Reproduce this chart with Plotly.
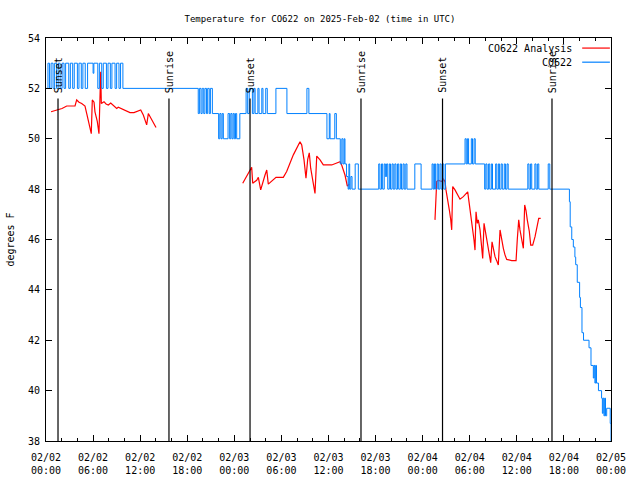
import pandas as pd
import plotly.graph_objects as go

# ---------------- data ----------------
BASE = "2025-02-02 00:00"

# Station observations (hours since 2025-02-02 00:00 UTC, degrees F)
obs_hours = [
    0.0, 0.25, 0.45, 0.65, 0.9, 1.1, 1.35, 1.55, 1.8, 2.05, 2.3, 2.5, 2.9, 3.1, 3.4, 3.6,
    4.0, 4.2, 4.5, 4.7, 5.0, 5.3, 6.0, 6.1, 6.6, 6.8, 7.1, 7.3, 7.7, 7.9, 8.2, 8.4, 8.8,
    9.0, 9.3, 9.5, 9.8,
    19.4, 19.55, 19.75, 19.9, 20.1, 20.25, 20.45, 20.6, 20.8, 20.95, 21.2,
    22.0, 22.15, 22.3, 22.45, 22.6, 23.2, 23.4, 23.55, 23.7, 23.85, 24.0, 24.15, 24.3, 24.7,
    25.5, 25.7, 25.9, 26.3, 26.5, 26.65, 27.0, 27.15, 27.5, 27.65, 28.0, 28.2, 29.3, 30.7,
    33.25, 33.5, 35.8, 36.1, 36.2, 36.8, 37.0, 37.5, 37.7, 37.85, 38.0, 38.1, 38.3, 38.5,
    38.6, 38.7, 38.85, 39.0, 39.4, 39.8,
    42.4, 42.55, 42.75, 42.9, 43.1, 43.25, 43.4, 43.55, 43.75, 43.9, 44.1, 44.25, 44.45,
    44.6, 44.8, 44.95, 45.15, 45.3, 45.5, 45.65, 45.85, 46.0, 47.0, 47.8,
    49.2, 49.35, 49.5, 49.65, 49.85, 50.0, 50.2, 50.35, 50.55, 50.7, 50.9,
    53.4, 53.55, 53.7, 53.85, 54.2, 54.35, 54.55, 54.7,
    55.9, 56.05, 56.2, 56.4, 56.55, 56.75, 56.9, 57.3, 57.45, 57.65, 57.8, 58.0, 58.15,
    58.4, 58.55, 58.75, 58.9,
    61.4, 61.55, 61.75, 61.9, 62.3, 62.45, 62.65, 62.8, 64.0, 64.2,
    66.7, 66.8, 67.0, 67.2, 67.4, 67.5, 67.7, 68.0, 68.1, 68.3, 68.5, 69.2, 69.45, 69.75,
    69.85, 69.95, 70.05, 70.15, 70.4, 70.8, 70.9, 71.0, 71.1, 71.2, 71.3, 71.45, 71.9, 72.0,
]
obs_temp = [
    52, 53, 52, 53, 52, 53, 52, 53, 52, 53, 52, 53, 52, 53, 52, 53,
    52, 53, 52, 53, 52, 53, 52.6, 53, 52, 53, 52, 53, 52, 53, 52, 53, 52,
    53, 52, 53, 52,
    51, 52, 51, 52, 51, 52, 51, 52, 51, 52, 51,
    50, 51, 50, 51, 50, 51, 50, 51, 50, 51, 50, 51, 50, 51,
    52, 51, 52, 51, 52, 51, 52, 51, 52, 51, 52, 51, 52, 51,
    52, 51, 50, 51, 50, 51, 50, 49, 50, 49, 50, 49, 48.5, 48,
    49, 48, 48.5, 48, 49, 48,
    49, 48, 49, 48, 49, 48.5, 49, 48, 49, 48, 49, 48, 49,
    48, 49, 48, 49, 48, 49, 48, 49, 48, 49, 48,
    49, 48, 49, 48, 49, 48, 49, 48, 49, 48, 49,
    50, 49, 50, 49, 50, 49, 50, 49,
    48, 49, 48, 49, 48, 49, 48, 49, 48, 49, 48, 49, 48,
    49, 48, 49, 48,
    49, 48, 49, 48, 49, 48, 49, 48, 49, 48,
    47.5, 46.5, 46, 45.7, 45.3, 45, 44.3, 43.7, 43.3, 42.3, 42, 41.7, 41, 40.5,
    41, 40.3, 41, 40.3, 40, 39.7, 39.1, 39.7, 39, 39.7, 39, 39.3, 38.7, 38,
]

# Analysis (three separate runs)
ana1_hours = [0.64, 1.57, 2.04, 2.64, 3.28, 3.7, 3.91, 4.21, 4.55, 4.97, 5.19, 5.52, 5.77,
              5.9, 6.12, 6.24, 6.54, 6.75, 6.97, 7.05, 7.39, 7.65, 7.94, 8.25, 8.58, 9.01,
              9.21, 9.52, 10.07, 10.7, 11.21, 11.76, 12.07, 12.4, 12.83, 13.04, 13.47, 14.02]
ana1_temp = [51.07, 51.14, 51.2, 51.3, 51.3, 51.3, 51.54, 51.45, 51.4, 51.3, 51.0, 50.6, 50.2,
             51.54, 51.45, 51.07, 50.68, 50.2, 52.66, 51.4, 51.47, 51.38, 51.34, 51.42, 51.34, 51.2,
             51.25, 51.2, 51.14, 51.04, 51.04, 51.12, 51.14, 50.94, 50.55, 51.0, 50.77, 50.45]

ana2_hours = [25.07, 25.58, 26.0, 26.21, 26.34, 26.85, 27.06, 27.36, 27.91, 28.13, 28.33, 28.97,
              29.31, 30.24, 30.67, 31.52, 32.37, 32.59, 32.88, 33.13, 33.35, 33.55, 33.73, 34.06,
              34.28, 34.5, 34.92, 35.34, 36.41, 37.47, 37.68, 38.1, 38.4, 38.65]
ana2_temp = [48.23, 48.5, 48.76, 48.87, 48.23, 48.35, 48.47, 47.97, 48.56, 48.76, 48.2, 48.4,
             48.47, 48.47, 48.7, 49.36, 49.88, 49.75, 49.16, 48.43, 49.18, 49.44, 48.83, 48.23,
             47.83, 49.31, 49.16, 48.96, 48.96, 49.09, 48.96, 48.56, 48.12, 48.2]

ana3_hours = [49.57, 49.7, 49.79, 49.99, 50.42, 50.63, 50.85, 50.97, 51.14, 51.4, 51.58, 51.7,
              51.83, 52.12, 52.76, 53.18, 53.74, 53.94, 54.25, 54.54, 54.67, 54.8, 54.96, 55.09,
              55.31, 55.52, 55.65, 55.82, 56.07, 56.24, 56.49, 56.67, 56.84, 57.0, 57.22, 57.43,
              57.64, 57.86, 58.07, 58.28, 58.49, 58.71, 59.35, 59.9, 60.06, 60.24, 60.4, 60.62,
              60.83, 61.0, 61.17, 61.33, 61.59, 61.77, 62.02, 62.32, 62.61, 62.79, 63.04]
ana3_temp = [46.78, 47.57, 48.3, 48.35, 48.3, 48.4, 48.3, 47.97, 47.7, 47.17, 46.78, 46.38,
             48.1, 47.97, 47.6, 47.7, 47.89, 47.44, 46.78, 45.98, 45.58, 47.1, 46.64, 46.78,
             46.38, 45.82, 45.25, 46.64, 46.18, 45.8, 45.45, 45.08, 45.91, 45.65, 45.32, 45.16,
             44.99, 46.38, 45.98, 45.65, 45.39, 45.21, 45.16, 45.16, 46.01, 46.78, 46.38, 45.98,
             45.65, 47.37, 47.15, 46.78, 46.32, 45.78, 45.78, 46.11, 46.51, 46.84, 46.84]

event_hours = [1.53, 15.67, 26.0, 40.14, 50.53, 64.48]
event_names = ["Sunset", "Sunrise", "Sunset", "Sunrise", "Sunset", "Sunrise"]

series_names = ["CO622 Analysis", "CO622"]
series_colors = ["#ff0000", "#0080ff"]

title_text = "Temperature for CO622 on 2025-Feb-02 (time in UTC)"
y_title = "degrees F"

# ---------------- build ----------------
base = pd.Timestamp(BASE)


def to_time(hours):
    return [base + pd.Timedelta(hours=h) for h in hours]


ana_x = to_time(ana1_hours) + [None] + to_time(ana2_hours) + [None] + to_time(ana3_hours)
ana_y = ana1_temp + [None] + ana2_temp + [None] + ana3_temp

MONO = "DejaVu Sans Mono"

fig = go.Figure()
fig.add_trace(go.Scatter(x=ana_x, y=ana_y, mode="lines", name=series_names[0],
                         line=dict(color=series_colors[0], width=1.2), connectgaps=False))
fig.add_trace(go.Scatter(x=to_time(obs_hours), y=obs_temp, mode="lines", name=series_names[1],
                         line=dict(color=series_colors[1], width=1.0, shape="hv")))

for h, name in zip(event_hours, event_names):
    t = base + pd.Timedelta(hours=h)
    fig.add_shape(type="line", xref="x", yref="y domain", x0=t, x1=t, y0=0, y1=0.85,
                  line=dict(color="black", width=1.2))
    fig.add_annotation(x=t, xref="x", y=0.858, yref="y domain", text=name, textangle=-90,
                       showarrow=False, xanchor="center", yanchor="bottom",
                       font=dict(family=MONO, size=10, color="black"))

# legend drawn in gnuplot style (text then sample line)
legend_rows = [0.975, 0.94]
for name, color, yy in zip(series_names, series_colors, legend_rows):
    fig.add_annotation(x=0.935, xref="paper", y=yy, yref="paper", text=name, showarrow=False,
                       xanchor="right", yanchor="middle",
                       font=dict(family=MONO, size=10, color="black"))
    fig.add_shape(type="line", xref="paper", yref="paper", x0=0.949, x1=0.998, y0=yy, y1=yy,
                  line=dict(color=color, width=1.2))

fig.update_layout(
    width=640, height=480,
    paper_bgcolor="white", plot_bgcolor="white",
    margin=dict(l=46, r=29, t=38, b=39, autoexpand=False),
    showlegend=False,
    title=dict(text=title_text, x=0.5, xref="container", y=1 - 19 / 480, yref="container",
               xanchor="center", yanchor="middle",
               font=dict(family=MONO, size=9, color="black"), automargin=False),
    font=dict(family=MONO, size=10, color="black"),
)

fig.update_xaxes(
    type="date", automargin=False,
    range=[base, base + pd.Timedelta(hours=72)],
    tick0=base, dtick=6 * 3600 * 1000, tickformat="%m/%d<br>%H:%M",
    ticks="inside", ticklen=6, tickcolor="black", tickwidth=1, ticklabelstandoff=7,
    minor=dict(dtick=2 * 3600 * 1000, ticks="inside", ticklen=3, tickcolor="black", showgrid=False),
    showline=True, linecolor="black", linewidth=1, mirror="ticks",
    showgrid=False, zeroline=False,
    tickfont=dict(family=MONO, size=10, color="black"),
)
fig.update_yaxes(
    automargin=False,
    range=[38, 54], dtick=2, tick0=38,
    ticks="inside", ticklen=6, tickcolor="black", tickwidth=1, ticklabelstandoff=3,
    showline=True, linecolor="black", linewidth=1, mirror="ticks",
    showgrid=False, zeroline=False,
    title=dict(text=y_title, font=dict(family=MONO, size=10, color="black"), standoff=11),
    tickfont=dict(family=MONO, size=10, color="black"),
)

fig.write_html("out.html", config={"displayModeBar": False},
               post_script="document.body.style.margin='0';")
